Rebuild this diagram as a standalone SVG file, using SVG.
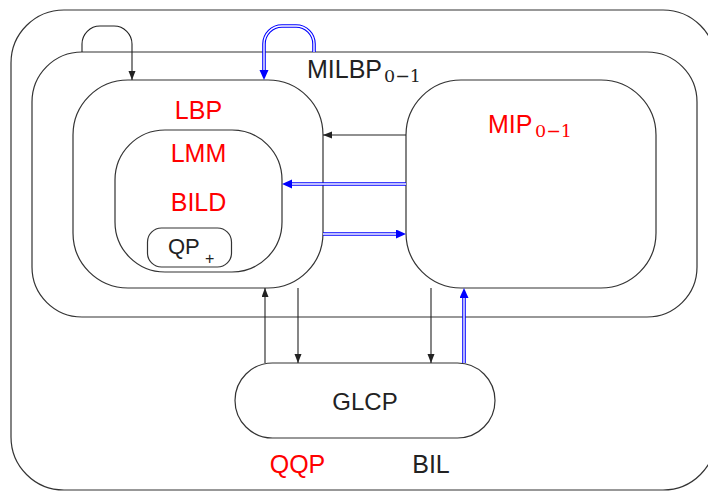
<svg xmlns="http://www.w3.org/2000/svg" width="708" height="491" viewBox="0 0 708 491">
<style>
.box{fill:none;stroke:#333;stroke-width:1.2}
.lbl{font-family:"Liberation Sans",Arial,sans-serif;font-size:25px}
.red{fill:#ff0000}
.blk{fill:#222}
.sub{font-family:"DejaVu Serif","Liberation Serif",serif;font-size:17.5px}
.cb{fill:none;stroke:#222;stroke-width:1.1}
.bo{fill:none;stroke:#0000ff;stroke-width:3.6}
.bi{fill:none;stroke:#ffffff;stroke-width:1.4}
</style>
<defs>
<marker id="ab" markerWidth="10" markerHeight="8" refX="9" refY="3.5" orient="auto" markerUnits="userSpaceOnUse"><path d="M0,0 L9,3.5 L0,7 z" fill="#222"/></marker>
<marker id="au" markerWidth="11" markerHeight="10" refX="0" refY="4.5" orient="auto" markerUnits="userSpaceOnUse"><path d="M0,0 L10,4.5 L0,9 z" fill="#0000ff"/></marker>
</defs>
<rect width="708" height="491" fill="#ffffff"/>
<g id="outer">
<rect class="box" x="11" y="10" width="705" height="480" rx="53"/>
<text class="lbl red" x="297.5" y="473" text-anchor="middle">QQP</text>
<text class="lbl blk" x="431" y="473" text-anchor="middle">BIL</text>
</g>
<g id="milbp">
<rect class="box" x="32" y="52" width="665" height="265" rx="50"/>
<text class="lbl blk" x="307" y="78">MILBP</text>
<text class="sub blk" x="384" y="82">0−1</text>
</g>
<g id="lbp">
<rect class="box" x="73" y="80" width="250" height="208" rx="55"/>
<text class="lbl red" x="198.5" y="119" text-anchor="middle">LBP</text>
</g>
<g id="lmm">
<rect class="box" x="115" y="130" width="167" height="142" rx="50"/>
<text class="lbl red" x="198.5" y="162" text-anchor="middle">LMM</text>
<text class="lbl red" x="198.5" y="211" text-anchor="middle">BILD</text>
</g>
<g id="qp">
<rect class="box" x="147.5" y="228" width="84" height="39" rx="14"/>
<text class="lbl blk" x="168" y="254" style="font-size:22px">QP</text>
<text class="lbl blk" x="205" y="264" style="font-size:16px">+</text>
</g>
<g id="mip">
<rect class="box" x="406" y="80" width="250" height="208" rx="55"/>
<text class="lbl red" x="488" y="133">MIP</text>
<text class="sub red" x="535" y="137">0−1</text>
</g>
<g id="glcp">
<rect class="box" x="235" y="363" width="260" height="75" rx="37.5"/>
<text class="lbl blk" x="365" y="410" text-anchor="middle" style="font-size:24px">GLCP</text>
</g>
<g id="connectors">
<path class="cb" d="M82,52 V44 A18,18 0 0 1 100,26 H114 A18,18 0 0 1 132,44 V80" marker-end="url(#ab)"/>
<path class="cb" d="M406,135 H323" marker-end="url(#ab)"/>
<path class="cb" d="M265,363 V288" marker-end="url(#ab)"/>
<path class="cb" d="M298,288 V363" marker-end="url(#ab)"/>
<path class="cb" d="M431,288 V363" marker-end="url(#ab)"/>
<path class="bo" d="M314,52 V44 A18,18 0 0 0 296,26 H282 A18,18 0 0 0 264,44 V70" marker-end="url(#au)"/>
<path class="bi" d="M314,52 V44 A18,18 0 0 0 296,26 H282 A18,18 0 0 0 264,44 V70"/>
<path class="bo" d="M406,184 H292" marker-end="url(#au)"/>
<path class="bi" d="M406,184 H292"/>
<path class="bo" d="M323,234 H396" marker-end="url(#au)"/>
<path class="bi" d="M323,234 H396"/>
<path class="bo" d="M464,363 V298" marker-end="url(#au)"/>
<path class="bi" d="M464,363 V298"/>
</g>
</svg>
